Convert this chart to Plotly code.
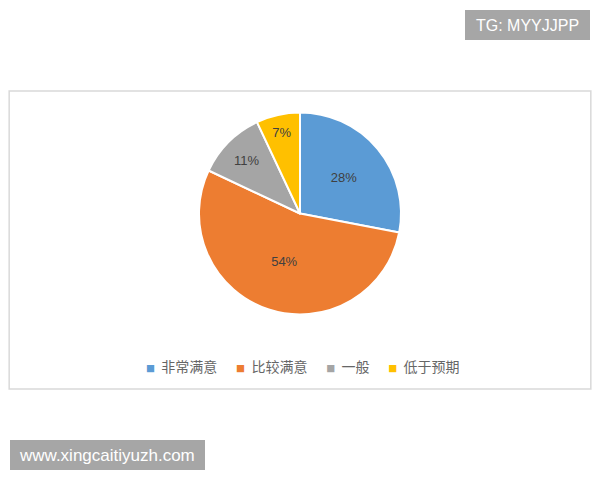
import plotly.graph_objects as go

categories = ["非常满意", "比较满意", "一般", "低于预期"]
values = [28, 54, 11, 7]
colors = ["#5B9BD5", "#ED7D31", "#A5A5A5", "#FFC000"]

# the page body adds an 8px margin on every side; keep the figure inside it
OFF = 8
W, H = 600 - 2 * OFF, 480 - 2 * OFF


def px(x):
    return (x - OFF) / W


def py(y):
    return 1 - (y - OFF) / H


fig = go.Figure()

fig.add_trace(go.Pie(
    labels=categories,
    values=values,
    sort=False,
    direction="clockwise",
    rotation=0,
    marker={"colors": colors, "line": {"color": "white", "width": 2}},
    texttemplate="%{value}%",
    textposition="inside",
    insidetextorientation="horizontal",
    textfont={"family": "Liberation Sans, Noto Sans", "size": 13, "color": "#404040"},
    domain={"x": [px(199), px(401)], "y": [py(315), py(112)]},
    showlegend=False,
    hoverinfo="label+percent",
))

# legend drawn as one text line, squares coloured per category
sq = '<span style="color:%s;font-size:9px">■</span>\u00a0\u00a0%s'
legend_text = ("\u00a0" * 6).join(sq % (col, cat) for cat, col in zip(categories, colors))

annotations = [
    dict(text=legend_text, x=px(303), y=py(366), xref="paper", yref="paper",
         xanchor="center", yanchor="middle", showarrow=False,
         font={"family": "Noto Sans CJK SC", "size": 14, "color": "#666666"}),
    dict(text="TG: MYYJJPP", x=px(527), y=py(25), xref="paper", yref="paper",
         xanchor="center", yanchor="middle", showarrow=False,
         font={"family": "Liberation Sans", "size": 16, "color": "white"}),
    dict(text="www.xingcaitiyuzh.com", x=px(107), y=py(455), xref="paper", yref="paper",
         xanchor="center", yanchor="middle", showarrow=False,
         font={"family": "Liberation Sans", "size": 17, "color": "white"}),
]

shapes = [
    # chart frame (its sides sit at the page edges)
    dict(type="rect", xref="paper", yref="paper",
         x0=0.002, x1=0.998, y0=py(389), y1=py(91),
         line={"color": "#D9D9D9", "width": 1.5}, fillcolor="rgba(0,0,0,0)"),
    # watermark boxes
    dict(type="rect", xref="paper", yref="paper",
         x0=px(465), x1=px(590), y0=py(40), y1=py(10),
         line={"width": 0}, fillcolor="#A6A6A6", layer="below"),
    dict(type="rect", xref="paper", yref="paper",
         x0=px(10), x1=px(205), y0=py(470), y1=py(440),
         line={"width": 0}, fillcolor="#A6A6A6", layer="below"),
]

fig.update_layout(
    width=W, height=H,
    margin={"l": 0, "r": 0, "t": 0, "b": 0},
    paper_bgcolor="white",
    plot_bgcolor="white",
    annotations=annotations,
    shapes=shapes,
)

fig.write_html("out.html")
